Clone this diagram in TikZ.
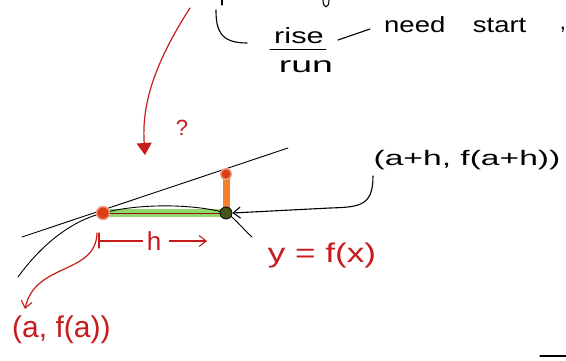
\documentclass[tikz,border=0pt]{standalone}
\usepackage{fontspec}
\usepackage{graphicx}
\setmainfont{Liberation Sans}
\usetikzlibrary{arrows.meta}
\definecolor{pen}{RGB}{200,28,28}
\definecolor{hl}{RGB}{145,215,105}
\definecolor{orng}{RGB}{242,128,45}
\definecolor{dotred}{RGB}{222,62,22}
\definecolor{dotgreen}{RGB}{70,85,25}
\tikzset{
  ink/.style={draw=black, line width=1.1pt, line cap=round},
  redink/.style={draw=pen, line width=1.2pt, line cap=round},
  handtext/.style={inner sep=0pt, text=black},
  redtext/.style={inner sep=0pt, text=pen},
  opentip/.style={-{Straight Barb[length=7pt,width=11pt,line width=1.1pt]}},
  filltip/.style={-{Triangle[length=12pt,width=15pt]}},
  ptdot/.style={circle, fill=dotred, minimum size=13pt, inner sep=0pt, draw=dotred!50, line width=1.5pt},
}
\begin{document}
\begin{tikzpicture}[x=1pt,y=-1pt]
\useasboundingbox (0,0) rectangle (566,360);
\fill[white] (0,0) rectangle (566,360);

% remnants of cut-off writing at the top
\draw[ink] (222,0) -- (222,5);
\draw[ink] (323,0) .. controls (323,9) and (329,9) .. (329,0);
\draw[ink] (216,10) .. controls (216,30) and (220,43) .. (247,43);

% rise / run
\node[handtext, font=\fontsize{22}{24}\selectfont] (rise) at (299,36) {\scalebox{1.4}[1]{rise}};
\draw[ink, line width=0.9pt] (270,49) -- (326,49);
\node[handtext, font=\fontsize{22}{24}\selectfont] (run) at (306,67) {\scalebox{1.7}[1]{run}};
\node[handtext, font=\fontsize{22}{24}\selectfont, anchor=west] (need) at (384,25) {\scalebox{1.25}[1]{need\hspace{22pt}start}};
\draw[ink] ([xshift=14pt,yshift=-4pt]rise.east) -- ([xshift=-14pt,yshift=-4pt]need.west);
\node[handtext, font=\fontsize{22}{24}\selectfont] (comma) at (563,30) {,};

% red arrow from top with question mark
\coordinate (topstart) at (190,8);
\coordinate (qtip) at (145,155);
\draw[redink, filltip] (topstart) .. controls (150,70) and (142,110) .. (qtip);
\node[redtext, font=\fontsize{22}{24}\selectfont] (q) at (182,128) {?};

% tangent line and curve
\coordinate (A) at (103,213);
\coordinate (B) at (226,213);
\coordinate (C) at (226,174);
\coordinate (L1) at (22,237);
\coordinate (L2) at (288,148);
\coordinate (c0) at (18,277);
\coordinate (c1) at (252,237);
\draw[ink, line width=0.9pt] (L1) -- (L2);
\draw[hl, line width=8pt] (A) -- (B);
\draw[draw=pen!70!black, line width=0.7pt] (A) -- (B);
\draw[orng, line width=7pt] (B) -- (C);
\draw[ink, line width=0.9pt] (c0) .. controls (45,240) and (75,220) .. (A)
   .. controls (140,203) and (195,204) .. (B)
   .. controls (235,218) and (242,228) .. (c1);
\node[ptdot] (pa) at (A) {};
\node[ptdot, minimum size=11pt] (pc) at (C) {};
\node[circle, fill=dotgreen, draw=black, minimum size=12pt, inner sep=0pt, line width=0.8pt] (pb) at (B) {};

% h measurement
\coordinate (hbar) at (99,241);
\draw[redink] (99,233) -- (99,248);
\node[redtext, font=\fontsize{26}{28}\selectfont] (h) at (154,241) {h};
\draw[redink] (hbar) -- ([xshift=-4pt]h.west);
\coordinate (hend) at (207,241);
\draw[redink, opentip] ([xshift=8pt]h.east) -- (hend);

% (a, f(a)) label
\node[redtext, font=\fontsize{30}{32}\selectfont, anchor=west] (fa) at (12,330) {(a, f(a))};
\coordinate (astart) at (97,233);
\coordinate (aend) at (25,309);
\draw[redink, opentip] (astart) .. controls (96,275) and (35,262) .. (aend);

% (a+h, f(a+h)) label
\node[handtext, font=\fontsize{21}{23}\selectfont] (fah) at (467,160) {\scalebox{1.6}[1]{(a+h, f(a+h))}};
\draw[ink, opentip] (373,176) .. controls (373,206) and (360,207) .. (330,208) -- (pb.east);

% y = f(x)
\node[redtext, font=\fontsize{27}{29}\selectfont] (yfx) at (322,256) {\scalebox{1.3}[1]{y = f(x)}};

% bottom right stroke
\draw[ink] (540,356) -- (566,356);
\end{tikzpicture}
\end{document}
